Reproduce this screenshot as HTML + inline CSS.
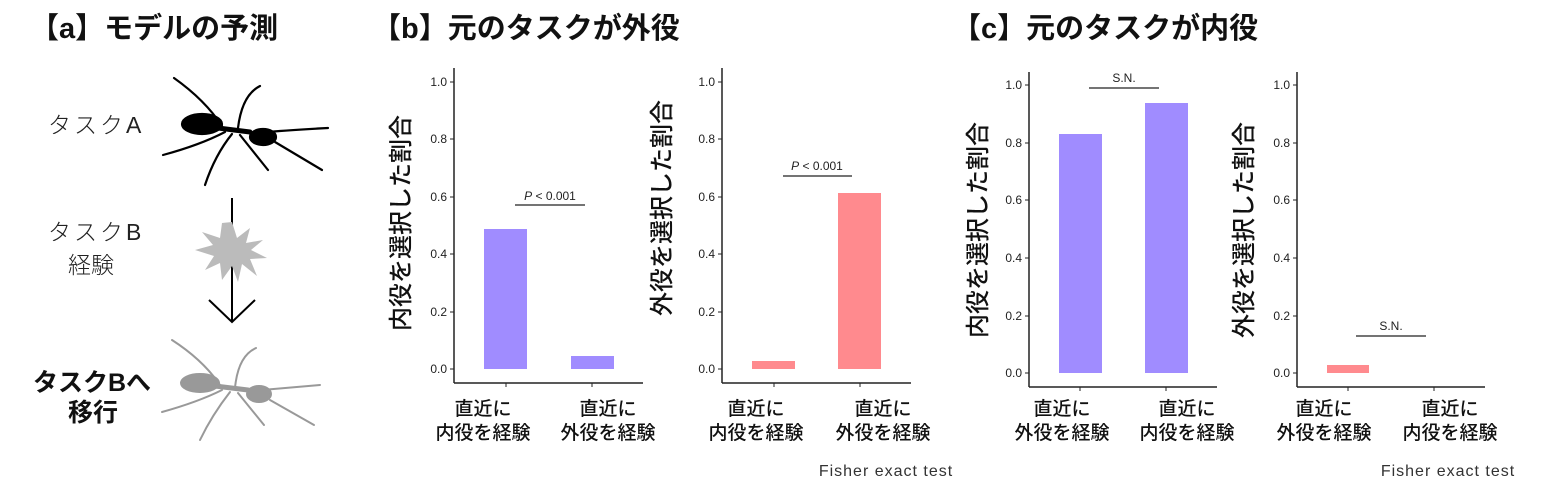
<!DOCTYPE html>
<html><head><meta charset="utf-8"><style>
body{margin:0;background:#fff;}
svg text{font-family:"Liberation Sans","Noto Sans CJK JP",sans-serif;}
.t{font-weight:bold;font-size:29px;fill:#111;}
.tick{font-size:12px;fill:#222;}
.yl{font-size:24px;fill:#111;font-weight:500;}
.xl{font-size:19px;fill:#111;font-weight:500;}
.ax{stroke:#222;stroke-width:1.5;fill:none;}
</style></head><body>
<svg width="1552" height="494" viewBox="0 0 1552 494" xmlns="http://www.w3.org/2000/svg">
<text class="t" x="30" y="38">【a】モデルの予測</text>
<text class="t" x="372" y="38">【b】元のタスクが外役</text>
<text class="t" x="952" y="38">【c】元のタスクが内役</text>

<text x="48" y="133" font-size="23" fill="#222" font-weight="300" letter-spacing="3">タスクA</text>
<text x="48" y="240" font-size="23" fill="#222" font-weight="300" letter-spacing="3">タスクB</text>
<text x="68" y="273" font-size="23" fill="#222" font-weight="300">経験</text>
<text x="33" y="391" font-size="25" fill="#111" font-weight="bold">タスクBへ</text>
<text x="68" y="421" font-size="25" fill="#111" font-weight="bold">移行</text>

<g stroke="#000" stroke-width="2.2" fill="none" stroke-linecap="round">
<ellipse cx="202" cy="124" rx="20" ry="10" fill="#000"/>
<path d="M218,128 L250,132" stroke-width="5"/>
<ellipse cx="263" cy="137" rx="13" ry="8" fill="#000"/>
<path d="M174,78 Q205,100 222,126"/>
<path d="M260,86 Q242,95 238,128"/>
<path d="M275,142 L322,170"/>
<path d="M268,132 Q290,130 328,128"/>
<path d="M240,135 L268,170"/>
<path d="M232,134 Q215,155 205,185"/>
<path d="M225,132 Q200,145 163,155"/>
</g>
<line x1="232" y1="198" x2="232" y2="322" stroke="#000" stroke-width="2"/>
<polyline points="209,300 232,322 255,300" fill="none" stroke="#000" stroke-width="2"/>
<polygon fill="#bbb" points="232,222 237,238 250,228 246,243 263,240 251,250 267,258 250,259 257,276 242,264 238,282 232,266 222,280 220,263 205,270 214,256 195,250 213,245 202,232 220,238 222,223"/>
<g stroke="#999" stroke-width="2" fill="none" stroke-linecap="round">
<ellipse cx="200" cy="383" rx="19" ry="9" fill="#999"/>
<path d="M215,386 L248,390" stroke-width="5"/>
<ellipse cx="259" cy="394" rx="12" ry="8" fill="#999"/>
<path d="M172,340 Q203,360 220,385"/>
<path d="M256,348 Q238,356 235,388"/>
<path d="M270,400 L314,425"/>
<path d="M262,390 Q285,388 320,385"/>
<path d="M238,393 L264,425"/>
<path d="M230,392 Q212,415 200,440"/>
<path d="M222,390 Q198,402 162,412"/>
</g>

<!-- chart b1 -->
<g>
<line class="ax" x1="454" y1="68" x2="454" y2="383"/>
<line class="ax" x1="454" y1="383" x2="643" y2="383"/>
<g class="tick" text-anchor="end">
<text x="447" y="86">1.0</text><text x="447" y="143">0.8</text><text x="447" y="201">0.6</text><text x="447" y="258">0.4</text><text x="447" y="316">0.2</text><text x="447" y="373">0.0</text></g>
<g stroke="#222" stroke-width="1"><line x1="450" y1="82" x2="454" y2="82"/><line x1="450" y1="139" x2="454" y2="139"/><line x1="450" y1="197" x2="454" y2="197"/><line x1="450" y1="254" x2="454" y2="254"/><line x1="450" y1="312" x2="454" y2="312"/><line x1="450" y1="369" x2="454" y2="369"/><line x1="506" y1="383" x2="506" y2="387"/><line x1="592" y1="383" x2="592" y2="387"/></g>
<rect x="484" y="229" width="43" height="140" fill="#a08cff"/>
<rect x="571" y="356" width="43" height="13" fill="#a08cff"/>
<line x1="515" y1="205" x2="585" y2="205" stroke="#222" stroke-width="1.3"/>
<text x="550" y="200" font-size="12" text-anchor="middle" fill="#222"><tspan font-style="italic">P</tspan> &lt; 0.001</text>
<text class="yl" transform="translate(409,223) rotate(-90)" text-anchor="middle">内役を選択した割合</text>
<text class="xl" x="483" y="415" text-anchor="middle">直近に</text>
<text class="xl" x="483" y="439" text-anchor="middle">内役を経験</text>
<text class="xl" x="608" y="415" text-anchor="middle">直近に</text>
<text class="xl" x="608" y="439" text-anchor="middle">外役を経験</text>
</g>

<!-- chart b2 -->
<g>
<line class="ax" x1="722" y1="68" x2="722" y2="383"/>
<line class="ax" x1="722" y1="383" x2="911" y2="383"/>
<g class="tick" text-anchor="end">
<text x="715" y="86">1.0</text><text x="715" y="143">0.8</text><text x="715" y="201">0.6</text><text x="715" y="258">0.4</text><text x="715" y="316">0.2</text><text x="715" y="373">0.0</text></g>
<g stroke="#222" stroke-width="1"><line x1="718" y1="82" x2="722" y2="82"/><line x1="718" y1="139" x2="722" y2="139"/><line x1="718" y1="197" x2="722" y2="197"/><line x1="718" y1="254" x2="722" y2="254"/><line x1="718" y1="312" x2="722" y2="312"/><line x1="718" y1="369" x2="722" y2="369"/><line x1="774" y1="383" x2="774" y2="387"/><line x1="860" y1="383" x2="860" y2="387"/></g>
<rect x="752" y="361" width="43" height="8" fill="#ff8a8e"/>
<rect x="838" y="193" width="43" height="176" fill="#ff8a8e"/>
<line x1="783" y1="176" x2="852" y2="176" stroke="#222" stroke-width="1.3"/>
<text x="817" y="170" font-size="12" text-anchor="middle" fill="#222"><tspan font-style="italic">P</tspan> &lt; 0.001</text>
<text class="yl" transform="translate(670,208) rotate(-90)" text-anchor="middle">外役を選択した割合</text>
<text class="xl" x="756" y="415" text-anchor="middle">直近に</text>
<text class="xl" x="756" y="439" text-anchor="middle">内役を経験</text>
<text class="xl" x="883" y="415" text-anchor="middle">直近に</text>
<text class="xl" x="883" y="439" text-anchor="middle">外役を経験</text>
<text x="886" y="476" font-size="16" text-anchor="middle" fill="#333" letter-spacing="1">Fisher exact test</text>
</g>

<!-- chart c1 -->
<g>
<line class="ax" x1="1029" y1="72" x2="1029" y2="387"/>
<line class="ax" x1="1029" y1="387" x2="1217" y2="387"/>
<g class="tick" text-anchor="end">
<text x="1022" y="89">1.0</text><text x="1022" y="147">0.8</text><text x="1022" y="204">0.6</text><text x="1022" y="262">0.4</text><text x="1022" y="320">0.2</text><text x="1022" y="377">0.0</text></g>
<g stroke="#222" stroke-width="1"><line x1="1025" y1="85" x2="1029" y2="85"/><line x1="1025" y1="143" x2="1029" y2="143"/><line x1="1025" y1="200" x2="1029" y2="200"/><line x1="1025" y1="258" x2="1029" y2="258"/><line x1="1025" y1="316" x2="1029" y2="316"/><line x1="1025" y1="373" x2="1029" y2="373"/><line x1="1080" y1="387" x2="1080" y2="391"/><line x1="1166" y1="387" x2="1166" y2="391"/></g>
<rect x="1059" y="134" width="43" height="239" fill="#a08cff"/>
<rect x="1145" y="103" width="43" height="270" fill="#a08cff"/>
<line x1="1089" y1="88" x2="1159" y2="88" stroke="#222" stroke-width="1.3"/>
<text x="1124" y="82" font-size="12" text-anchor="middle" fill="#222">S.N.</text>
<text class="yl" transform="translate(986,230) rotate(-90)" text-anchor="middle">内役を選択した割合</text>
<text class="xl" x="1062" y="415" text-anchor="middle">直近に</text>
<text class="xl" x="1062" y="439" text-anchor="middle">外役を経験</text>
<text class="xl" x="1187" y="415" text-anchor="middle">直近に</text>
<text class="xl" x="1187" y="439" text-anchor="middle">内役を経験</text>
</g>

<!-- chart c2 -->
<g>
<line class="ax" x1="1297" y1="72" x2="1297" y2="387"/>
<line class="ax" x1="1297" y1="387" x2="1485" y2="387"/>
<g class="tick" text-anchor="end">
<text x="1290" y="89">1.0</text><text x="1290" y="147">0.8</text><text x="1290" y="204">0.6</text><text x="1290" y="262">0.4</text><text x="1290" y="320">0.2</text><text x="1290" y="377">0.0</text></g>
<g stroke="#222" stroke-width="1"><line x1="1293" y1="85" x2="1297" y2="85"/><line x1="1293" y1="143" x2="1297" y2="143"/><line x1="1293" y1="200" x2="1297" y2="200"/><line x1="1293" y1="258" x2="1297" y2="258"/><line x1="1293" y1="316" x2="1297" y2="316"/><line x1="1293" y1="373" x2="1297" y2="373"/><line x1="1348" y1="387" x2="1348" y2="391"/><line x1="1434" y1="387" x2="1434" y2="391"/></g>
<rect x="1327" y="365" width="42" height="8" fill="#ff8a8e"/>
<line x1="1356" y1="336" x2="1426" y2="336" stroke="#222" stroke-width="1.3"/>
<text x="1391" y="330" font-size="12" text-anchor="middle" fill="#222">S.N.</text>
<text class="yl" transform="translate(1252,230) rotate(-90)" text-anchor="middle">外役を選択した割合</text>
<text class="xl" x="1324" y="415" text-anchor="middle">直近に</text>
<text class="xl" x="1324" y="439" text-anchor="middle">外役を経験</text>
<text class="xl" x="1450" y="415" text-anchor="middle">直近に</text>
<text class="xl" x="1450" y="439" text-anchor="middle">内役を経験</text>
<text x="1448" y="476" font-size="16" text-anchor="middle" fill="#333" letter-spacing="1">Fisher exact test</text>
</g>
</svg>
</body></html>
